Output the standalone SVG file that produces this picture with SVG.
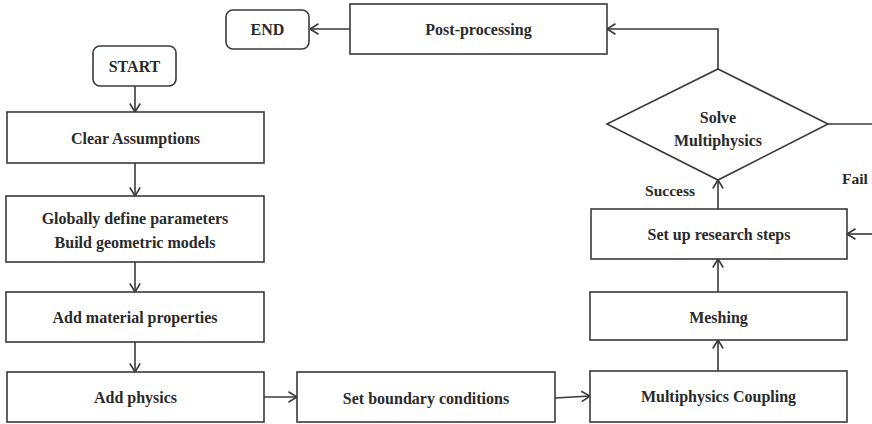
<svg xmlns="http://www.w3.org/2000/svg" width="872" height="424" viewBox="0 0 872 424">
<style>
.box{fill:#fff;stroke:#3a3a3a;stroke-width:1.6}
.t{font-family:"Liberation Serif","Times New Roman",serif;font-weight:bold;font-size:16px;fill:#2a2a2a;text-anchor:middle;dominant-baseline:central}
.c{fill:none;stroke:#3a3a3a;stroke-width:1.6}
</style>
<defs>
<marker id="ah" viewBox="0 0 10 12" refX="9.5" refY="6" markerWidth="10" markerHeight="12" markerUnits="userSpaceOnUse" orient="auto">
<path d="M1,0.8 L9.5,6 L1,11.2" fill="none" stroke="#3a3a3a" stroke-width="1.6"/>
</marker>
</defs>
<rect width="872" height="424" fill="#fff"/>
<g id="connectors">
<path class="c" d="M350,29 H310" marker-end="url(#ah)"/>
<path class="c" d="M135,86 V112" marker-end="url(#ah)"/>
<path class="c" d="M135,163 V196" marker-end="url(#ah)"/>
<path class="c" d="M135,262 V292" marker-end="url(#ah)"/>
<path class="c" d="M135,342 V372" marker-end="url(#ah)"/>
<path class="c" d="M264,397 H297" marker-end="url(#ah)"/>
<path class="c" d="M555,398 L590,396" marker-end="url(#ah)"/>
<path class="c" d="M718,371 V340" marker-end="url(#ah)"/>
<path class="c" d="M718,292 V259" marker-end="url(#ah)"/>
<path class="c" d="M718,209 V180" marker-end="url(#ah)"/>
<path class="c" d="M718,69 V29 H607" marker-end="url(#ah)"/>
<path class="c" d="M828,124 H872"/>
<path class="c" d="M872,234 H847" marker-end="url(#ah)"/>
<text class="t" x="670" y="190" style="font-size:15.5px">Success</text>
<text class="t" x="855" y="178" style="font-size:15.5px">Fail</text>
</g>
<g id="end"><rect class="box" x="226" y="10" width="83" height="39" rx="7"/><text class="t" x="267.5" y="29.5">END</text></g>
<g id="post"><rect class="box" x="350" y="4" width="257" height="50"/><text class="t" x="478.5" y="29">Post-processing</text></g>
<g id="start"><rect class="box" x="93" y="46" width="83" height="40" rx="7"/><text class="t" x="134.5" y="66">START</text></g>
<g id="clear"><rect class="box" x="7" y="112" width="257" height="51"/><text class="t" x="135.5" y="138">Clear Assumptions</text></g>
<g id="global"><rect class="box" x="6" y="196" width="258" height="66"/><text class="t" x="135" y="218">Globally define parameters</text><text class="t" x="135" y="242">Build geometric models</text></g>
<g id="material"><rect class="box" x="6" y="292" width="258" height="50"/><text class="t" x="135" y="317">Add material properties</text></g>
<g id="physics"><rect class="box" x="7" y="372" width="257" height="50"/><text class="t" x="135.5" y="397">Add physics</text></g>
<g id="boundary"><rect class="box" x="297" y="372" width="258" height="50"/><text class="t" x="426" y="398">Set boundary conditions</text></g>
<g id="coupling"><rect class="box" x="590" y="371" width="257" height="51"/><text class="t" x="718.5" y="396">Multiphysics Coupling</text></g>
<g id="meshing"><rect class="box" x="590" y="292" width="257" height="48"/><text class="t" x="718.5" y="317">Meshing</text></g>
<g id="research"><rect class="box" x="591" y="209" width="256" height="50"/><text class="t" x="719" y="234">Set up research steps</text></g>
<g id="solve"><polygon class="box" points="718,69 828,124 718,180 607,124"/><text class="t" x="718" y="117">Solve</text><text class="t" x="718" y="140">Multiphysics</text></g>
</svg>
